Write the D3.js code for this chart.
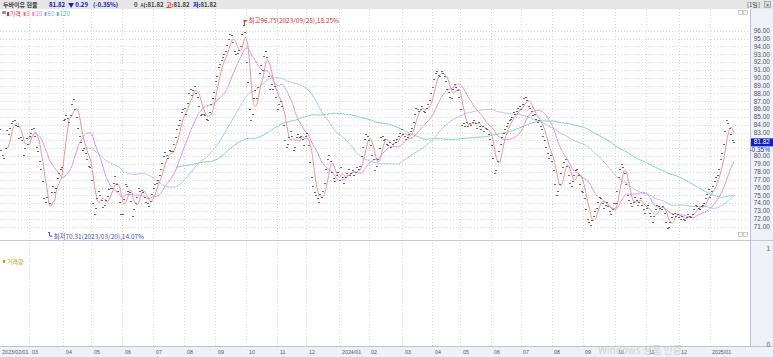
<!DOCTYPE html>
<html><head><meta charset="utf-8">
<script src="https://cdn.jsdelivr.net/npm/d3@7"></script>
<style>
body{margin:0;background:#fff;}
svg{display:block;font-family:"Noto Sans CJK KR","Noto Sans",sans-serif;}
.num{font-family:"Liberation Sans","DejaVu Sans",sans-serif;}
</style>
</head><body>
<svg id="c" width="773" height="357"></svg>
<script>
// ---------------- DATA ----------------
const monthLabels = ["2023/02/01","03","04","05","06","07","08","09","10","11","12","2024/01","02","03","04","05","06","07","08","09","10","11","12","2025/01"];
const p2023_02 = [83.5,80.8,80.2,79.8,81.0,83.3,82.8,83.6,84.2,84.5,84.6,84.0,83.8,82.3,82.5,82.0,80.1,81.0,82.3,81.6];
const p2023_03 = [82.6,83.0,83.4,83.6,82.6,81.2,80.6,79.4,78.4,76.8,74.6,74.2,74.8,70.31,74.0,75.4,76.2,75.4,76.0,77.2,77.8,78.3,78.6];
const p2023_04 = [84.6,84.8,85.2,84.9,84.4,85.3,86.6,87.3,86.0,85.0,83.6,82.6,81.8,80.8,81.0,80.4,79.6,78.8,78.6];
const p2023_05 = [77.0,74.0,72.6,73.4,74.6,75.6,75.0,74.4,73.5,73.8,74.4,74.9,75.8,76.0,76.0,76.6,77.5,76.4,75.5,74.2,72.6];
const p2023_06 = [72.6,74.5,76.4,76.2,75.6,75.4,74.3,72.4,73.3,74.0,74.8,75.9,75.6,75.7,75.4,74.8,74.2,74.0,73.6,74.3,75.2];
const p2023_07 = [76.0,76.4,76.6,76.9,77.6,78.3,79.1,80.0,80.5,80.1,79.8,80.8,80.6,80.7,81.6,82.5,83.5,84.0,84.6,85.6,86.0];
const p2023_08 = [86.2,85.4,86.8,88.0,88.6,87.8,88.4,89.0,88.0,87.6,86.4,85.2,85.4,85.4,85.2,84.8,84.6,85.6,86.6,87.4,88.2];
const p2023_09 = [89.6,90.2,91.4,91.8,92.2,92.6,93.0,93.4,94.2,95.0,95.6,95.4,94.6,93.4,93.0,93.2,93.6,94.0,95.6,96.75,95.8];
const p2023_10 = [92.0,89.5,86.0,84.6,85.4,87.4,88.4,87.4,88.8,90.6,91.6,91.0,92.8,93.4,92.6,90.2,88.6,89.2,88.6,89.0,87.6];
const p2023_11 = [86.0,86.6,87.0,86.4,84.0,82.0,81.2,81.6,82.4,83.2,82.6,80.8,81.2,82.4,82.8,82.4,82.6,82.2,81.4,82.6];
const p2023_12 = [83.0,81.4,79.2,77.4,76.2,75.4,75.0,74.6,74.2,75.2,74.8,75.6,76.6,78.4,79.6,80.2,79.4,78.0,77.2,76.8,77.6,78.0];
const p2024_01 = [77.0,78.6,77.4,76.6,77.4,77.8,78.4,77.6,77.8,78.2,77.6,78.0,78.6,78.4,78.8,80.0,81.2,82.2,82.8,82.6];
const p2024_02 = [82.0,81.4,80.2,79.6,78.2,78.8,79.6,81.0,82.4,82.6,82.0,82.2,81.6,81.4,81.8,81.2,81.6,82.0,81.8,82.2,82.6,83.0,83.4];
const p2024_03 = [82.8,82.6,82.2,82.4,82.8,83.2,83.6,84.4,85.4,86.2,86.0,85.8,86.0,86.4,85.8,85.6,86.2,86.6,87.2,88.0];
const p2024_04 = [88.8,89.8,90.6,90.8,90.4,90.2,90.8,90.6,90.2,89.6,88.6,88.2,87.6,87.4,88.6,89.2,88.8,88.4,87.6];
const p2024_05 = [86.0,84.0,84.2,83.8,84.4,83.8,84.2,84.0,84.4,84.6,84.2,83.6,84.4,83.8,83.4,83.8,83.2,83.6,83.4,82.8,82.2];
const p2024_06 = [81.4,79.8,77.8,78.2,79.4,80.6,81.6,82.4,83.0,83.4,83.8,84.2,84.6,84.8,85.0,85.6,85.4,85.8,86.2,86.4];
const p2024_07 = [86.0,86.6,87.4,87.6,87.2,86.4,86.2,85.8,85.2,85.4,84.8,84.4,84.6,83.8,83.4,82.6,82.0,81.2,80.4,79.8,80.2];
const p2024_08 = [79.4,78.2,76.4,75.0,75.6,76.4,77.8,78.6,79.2,79.6,78.8,77.6,76.6,76.2,76.8,77.6,78.2,78.4,77.6,76.4,75.6];
const p2024_09 = [75.4,74.6,73.2,72.0,71.6,71.2,71.8,72.4,73.0,73.4,74.2,74.8,74.6,74.0,73.4,73.8,74.2,73.6,73.0,72.6,73.2,74.0];
const p2024_10 = [74.0,75.6,77.4,78.4,79.0,78.6,77.8,76.4,75.0,74.4,74.0,73.6,74.2,74.8,74.4,73.8,74.2,74.6,73.8,73.2,72.8];
const p2024_11 = [73.4,73.8,72.8,72.4,71.6,72.4,73.2,73.8,73.6,73.4,73.2,73.6,72.8,71.6,70.8,71.0,71.6,72.2,72.6,72.8,72.4,72.6];
const p2024_12 = [72.2,72.0,72.4,72.0,71.8,72.2,72.6,72.4,72.2,72.6,73.2,73.8,73.6,73.4,73.2,73.6,73.8,74.0,74.6,75.2,75.8];
const p2025_01 = [74.8,75.6,76.2,76.8,77.4,77.6,78.4,79.6,80.4,81.6,83.2,84.6,84.2,83.6,82.8,82.11,81.82];
const monthlyPrices = [p2023_02,p2023_03,p2023_04,p2023_05,p2023_06,p2023_07,p2023_08,p2023_09,p2023_10,p2023_11,p2023_12,
  p2024_01,p2024_02,p2024_03,p2024_04,p2024_05,p2024_06,p2024_07,p2024_08,p2024_09,p2024_10,p2024_11,p2024_12,p2025_01];
const maPeriods = [5, 20, 60, 120];
const yTickValues = [71,72,73,74,75,76,77,78,79,80,81,82,83,84,85,86,87,88,89,90,91,92,93,94,95,96];
const legendNames = ["가격","5","20","60","120"];
const maxNote = {date:"2023/09/28", pct:"18.25%"};
const minNote = {date:"2023/03/20", pct:"14.07%"};
const header = {name:"두바이유 현물", last:"81.82", chg:"▼ 0.29", pct:"(-0.35%)", vol:"0", open:"81.82", high:"81.82", low:"81.82", chgPct:"-0.35%"};

// ---------------- BUILD ----------------
const prices = monthlyPrices.flat();
const monthStart = [];
{ let k = 0; monthlyPrices.forEach(m => { monthStart.push(k); k += m.length; }); }
const N = prices.length;
function movingAvg(n){
  return prices.map((v,i)=> i < n-1 ? null : d3.mean(prices.slice(i-n+1, i+1)));
}
const maSeries = maPeriods.map(movingAvg);
const maColors = ["#f29191","#e290e6","#adc8ee","#78d7bb"];
const legendColors = ["#ff2020","#f07070","#d884dc","#7ea8e4","#4cc6a2"];

const W = 773, H = 357;
const plotL = 0, plotR = 750;
const mainTop = 9, volBot = 346;

const svg = d3.select("#c");
const x = d3.scaleLinear().domain([0, N-1]).range([0, 734]);
const y = d3.scaleLinear().domain([71, 96]).range([226.7, 30.7]);
const yVol = d3.scaleLinear().domain([0, 1]).range([345, 249]);

// backgrounds
svg.append("rect").attr("x",0).attr("y",0).attr("width",W).attr("height",H).attr("fill","#fff");
svg.append("rect").attr("x",plotR).attr("y",mainTop).attr("width",W-plotR).attr("height",volBot-mainTop).attr("fill","#eef1f8");
svg.append("rect").attr("x",0).attr("y",0).attr("width",W).attr("height",mainTop).attr("fill","#e6e6e6");
svg.append("rect").attr("x",0).attr("y",volBot).attr("width",W).attr("height",H-volBot).attr("fill","#eef1f8");

const grid = svg.append("g").attr("stroke","#d6d6d6").attr("stroke-dasharray","1,2").attr("stroke-width",1);
yTickValues.forEach(v=>{
  grid.append("line").attr("x1",plotL).attr("x2",plotR).attr("y1",Math.round(y(v))+0.5).attr("y2",Math.round(y(v))+0.5);
});
monthStart.forEach(i=>{
  const gx = Math.round(x(i) - 0.7) + 0.5;
  grid.append("line").attr("x1",gx).attr("x2",gx).attr("y1",mainTop).attr("y2",volBot);
});

svg.append("line").attr("x1",0).attr("x2",W).attr("y1",240.5).attr("y2",240.5).attr("stroke","#c8c8c8");
svg.append("line").attr("x1",plotR+0.5).attr("x2",plotR+0.5).attr("y1",mainTop).attr("y2",volBot).attr("stroke","#c0c4cc");
svg.append("line").attr("x1",0).attr("x2",W).attr("y1",volBot+0.5).attr("y2",volBot+0.5).attr("stroke","#c0c4cc");

// small panel icons (top-right of each panel)
[[738,10],[738,232]].forEach(p=>{
  svg.append("rect").attr("x",p[0]+0.5).attr("y",p[1]+0.5).attr("width",4).attr("height",4).attr("fill","#f4f4f4").attr("stroke","#b0b0b0").attr("stroke-width",0.6);
  svg.append("rect").attr("x",p[0]+5.5).attr("y",p[1]+0.5).attr("width",4).attr("height",4).attr("fill","#f4f4f4").attr("stroke","#b0b0b0").attr("stroke-width",0.6);
});

// moving averages
const line = d3.line().defined(d=>d.v!=null).x(d=>x(d.i)).y(d=>y(d.v)).curve(d3.curveMonotoneX);
[3,2,1,0].forEach(k=>{
  const data = maSeries[k].map((v,i)=>({i,v}));
  svg.append("path").attr("d",line(data)).attr("fill","none").attr("stroke",maColors[k]).attr("stroke-width",1);
});

// price marks
svg.append("g").selectAll("rect").data(prices).join("rect")
  .attr("x",(d,i)=>Math.round(x(i))-1).attr("y",d=>Math.round(y(d)))
  .attr("width",2).attr("height",1).attr("fill","#6a6a6a");

// max / min annotations
const iMax = d3.maxIndex(prices), iMin = d3.minIndex(prices);
{
  const mx = Math.round(x(iMax))+0.5, my = y(prices[iMax]);
  svg.append("path").attr("d",`M${mx},${my}V${my-4}H${mx+3}`).attr("fill","none").attr("stroke","#e03030");
  svg.append("rect").attr("x",mx-1).attr("y",my-5).attr("width",2).attr("height",2).attr("fill","#e03030");
  svg.append("text").attr("x",mx+4).attr("y",my-2).attr("font-size",6.5).attr("fill","#e03030")
    .text(`최고${prices[iMax].toFixed(2)}(${maxNote.date}),${maxNote.pct}`);
}
{
  const mx = Math.round(x(iMin))+0.5, my = y(prices[iMin]);
  svg.append("path").attr("d",`M${mx},${my}V${my+4}H${mx+3}`).attr("fill","none").attr("stroke","#4050d0");
  svg.append("text").attr("x",mx+4).attr("y",my+6.5).attr("font-size",6.5).attr("fill","#4050d0")
    .text(`최저${prices[iMin].toFixed(2)}(${minNote.date}),${minNote.pct}`);
}

// y axis labels (hidden behind the current-price box where they would collide)
const last = prices[N-1];
const boxY = y(last);
svg.append("g").attr("class","num").selectAll("text").data(yTickValues.filter(v=>Math.abs(y(v)-boxY-3) > 8)).join("text")
  .attr("x",770).attr("y",d=>y(d)+2.3).attr("text-anchor","end").attr("font-size",6.5).attr("fill","#555")
  .text(d=>d.toFixed(2));
svg.append("rect").attr("x",751).attr("y",boxY-3.5).attr("width",22).attr("height",8).attr("fill","#1020c8");
svg.append("text").attr("class","num").attr("x",770).attr("y",boxY+2.6).attr("text-anchor","end").attr("font-size",6.5).attr("fill","#fff").text(last.toFixed(2));
svg.append("text").attr("class","num").attr("x",770).attr("y",boxY+10.5).attr("text-anchor","end").attr("font-size",6.5).attr("fill","#2030d0").text(header.chgPct);
// volume axis labels
svg.append("text").attr("class","num").attr("x",770).attr("y",yVol(1)+2.3).attr("text-anchor","end").attr("font-size",6.5).attr("fill","#555").text("1");
svg.append("text").attr("class","num").attr("x",770).attr("y",yVol(0)+2.3).attr("text-anchor","end").attr("font-size",6.5).attr("fill","#555").text("0");

// x axis labels
svg.append("g").attr("class","num").selectAll("text").data(monthStart).join("text")
  .attr("x",i=>Math.max(1, Math.round(x(i))+2)).attr("y",353.5).attr("font-size",5.3).attr("fill","#555")
  .text((d,k)=>monthLabels[k]);

// legend
{
  const g = svg.append("g").attr("font-size",6);
  g.append("rect").attr("x",2).attr("y",11).attr("width",4).attr("height",3).attr("fill","#999");
  let lx = 7;
  legendNames.forEach((n,k)=>{
    g.append("rect").attr("x",lx).attr("y",12).attr("width",2).attr("height",4).attr("fill",legendColors[k]);
    const t = g.append("text").attr("x",lx+3).attr("y",16.3).attr("fill",legendColors[k]).text(n);
    lx += 3 + t.node().getComputedTextLength() + 2.5;
  });
  svg.append("rect").attr("x",3).attr("y",260).attr("width",2).attr("height",3).attr("fill","#c8a000");
  svg.append("text").attr("x",7).attr("y",264).attr("font-size",6).attr("fill","#c8a000").text("거래량");
}

// header
{
  const g = svg.append("g").attr("font-size",6).attr("font-weight","bold");
  const groups = [
    {x:3,  parts:[[header.name,"#444"]]},
    {x:49, parts:[[header.last,"#1020c8"]]},
    {x:68, parts:[[header.chg,"#1020c8"]]},
    {x:93, parts:[[header.pct,"#1020c8"]]},
    {x:134,parts:[[header.vol,"#444"]]},
    {x:140,parts:[["시:","#444"],[header.open,"#444"]]},
    {x:166,parts:[["고:","#e02020"],[header.high,"#444"]]},
    {x:193,parts:[["저:","#1020c8"],[header.low,"#444"]]}
  ];
  groups.forEach(gr=>{
    const t = g.append("text").attr("x",gr.x).attr("y",6.8);
    gr.parts.forEach(p=> t.append("tspan").attr("fill",p[1]).text(p[0]));
  });
  svg.append("text").attr("x",747).attr("y",6.8).attr("font-size",6).attr("fill","#444").text("[1일]");
  svg.append("rect").attr("x",764.5).attr("y",1.5).attr("width",6).attr("height",6).attr("fill","#ddd").attr("stroke","#888").attr("stroke-width",0.6);
  svg.append("text").attr("class","num").attr("x",767.5).attr("y",6.6).attr("text-anchor","middle").attr("font-size",6).attr("fill","#444").text("×");
}
// OS watermark visible in the reference
svg.append("text").attr("x",598).attr("y",354).attr("font-size",10).attr("fill","#c8c8cc").attr("opacity",0.75).text("Windows 정품 인증");
</script>
</body></html>
